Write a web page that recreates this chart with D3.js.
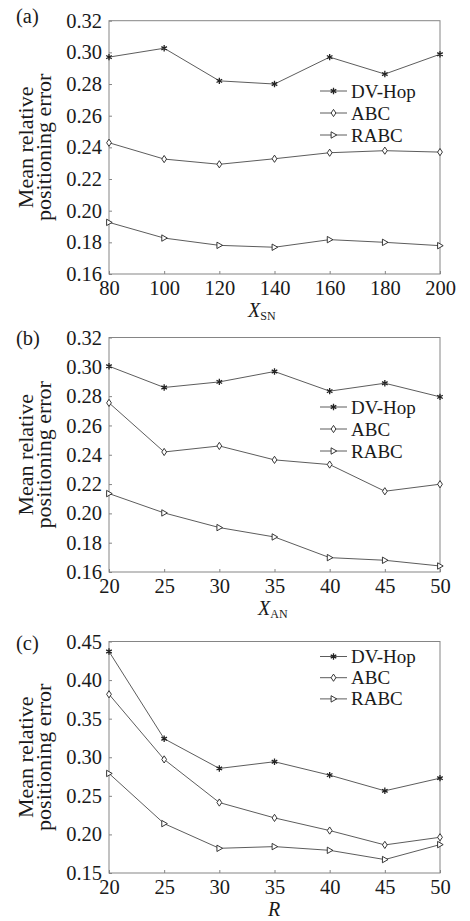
<!DOCTYPE html>
<html>
<head>
<meta charset="utf-8">
<script src="https://cdn.jsdelivr.net/npm/d3@7"></script>
<style>
  body { margin: 0; background: #fff; }
  svg text { font-family: "Liberation Serif", serif; fill: #1a1a1a; }
</style>
</head>
<body>
<svg id="chart" width="470" height="921"></svg>
<script>
// --- data ---
const seriesNames = ["DV-Hop", "ABC", "RABC"];

const xA = [80, 100, 120, 140, 160, 180, 200];
const dvhopA = [0.297, 0.3026, 0.282, 0.280, 0.297, 0.2863, 0.2988];
const abcA = [0.2429, 0.2326, 0.2293, 0.2328, 0.2366, 0.2379, 0.2370];
const rabcA = [0.1926, 0.1827, 0.1781, 0.1769, 0.1817, 0.1800, 0.1779];
const yTicksA = [0.16, 0.18, 0.20, 0.22, 0.24, 0.26, 0.28, 0.30, 0.32];

const xB = [20, 25, 30, 35, 40, 45, 50];
const dvhopB = [0.3004, 0.2859, 0.2897, 0.2968, 0.2834, 0.2888, 0.2795];
const abcB = [0.2754, 0.2419, 0.2460, 0.2365, 0.2333, 0.2151, 0.2199];
const rabcB = [0.2135, 0.2003, 0.1903, 0.1839, 0.1698, 0.1680, 0.1641];
const yTicksB = [0.16, 0.18, 0.20, 0.22, 0.24, 0.26, 0.28, 0.30, 0.32];

const xC = [20, 25, 30, 35, 40, 45, 50];
const dvhopC = [0.437, 0.324, 0.2855, 0.2942, 0.2768, 0.2565, 0.2729];
const abcC = [0.3816, 0.2972, 0.2413, 0.2214, 0.2050, 0.1864, 0.1963];
const rabcC = [0.279, 0.214, 0.182, 0.1842, 0.1794, 0.1674, 0.1868];
const yTicksC = [0.15, 0.20, 0.25, 0.30, 0.35, 0.40, 0.45];

const svg = d3.select("#chart");
const left = 109, right = 440;

// marker shapes
const markers = {
  "DV-Hop": "M0,-3.2L0,3.2M-2.8,-1.6L2.8,1.6M-2.8,1.6L2.8,-1.6",
  "ABC": "M0,-3.6L2.4,0L0,3.6L-2.4,0Z",
  "RABC": "M-2.4,-3.2L3.2,0L-2.4,3.2Z"
};

function drawPanel(cfg) {
  const g = svg.append("g");
  const x = d3.scaleLinear().domain(d3.extent(cfg.xs)).range([left, right]);
  const y = d3.scaleLinear().domain(d3.extent(cfg.yTicks)).range([cfg.bottom, cfg.top]);

  // box
  g.append("rect")
    .attr("x", left).attr("y", cfg.top)
    .attr("width", right - left).attr("height", cfg.bottom - cfg.top)
    .attr("fill", "none").attr("stroke", "#858585").attr("stroke-width", 1);

  // axes with short inward ticks
  const xAxis = d3.axisBottom(x).tickValues(cfg.xs).tickSizeInner(-3).tickSizeOuter(0).tickPadding(6);
  const yAxis = d3.axisLeft(y).tickValues(cfg.yTicks).tickSizeInner(-3).tickSizeOuter(0)
    .tickPadding(7).tickFormat(d3.format(".2f"));

  const gx = g.append("g").attr("transform", "translate(0," + cfg.bottom + ")").call(xAxis);
  const gy = g.append("g").attr("transform", "translate(" + left + ",0)").call(yAxis);
  [gx, gy].forEach(function (a) {
    a.select(".domain").remove();
    a.selectAll(".tick line").attr("stroke", "#858585");
    a.selectAll("text").attr("font-size", 20.5).attr("fill", "#1a1a1a")
      .attr("font-family", "Liberation Serif");
  });

  // series
  const series = [
    { name: "DV-Hop", values: cfg.dvhop },
    { name: "ABC", values: cfg.abc },
    { name: "RABC", values: cfg.rabc }
  ];
  const line = d3.line()
    .x(function (d, i) { return x(cfg.xs[i]); })
    .y(function (d) { return y(d); });

  series.forEach(function (s) {
    g.append("path")
      .attr("d", line(s.values))
      .attr("fill", "none")
      .attr("stroke", "#4a4a4a")
      .attr("stroke-width", 0.9);
    g.selectAll(null)
      .data(s.values)
      .join("path")
      .attr("transform", function (d, i) { return "translate(" + x(cfg.xs[i]) + "," + y(d) + ")"; })
      .attr("d", markers[s.name])
      .attr("fill", "#fff")
      .attr("stroke", "#222")
      .attr("stroke-width", s.name == "DV-Hop" ? 1.3 : 0.9);
  });

  // legend
  seriesNames.forEach(function (name, i) {
    const ly = cfg.legendY + i * cfg.legendStep;
    g.append("line")
      .attr("x1", 320).attr("x2", 347).attr("y1", ly).attr("y2", ly)
      .attr("stroke", "#4a4a4a").attr("stroke-width", 0.9);
    g.append("path")
      .attr("transform", "translate(333.5," + ly + ")")
      .attr("d", markers[name])
      .attr("fill", "#fff").attr("stroke", "#222")
      .attr("stroke-width", name == "DV-Hop" ? 1.3 : 0.9);
    g.append("text")
      .attr("x", 351).attr("y", ly + 6.5)
      .attr("font-size", 19)
      .text(name);
  });

  // panel letter
  g.append("text")
    .attr("x", 16).attr("y", cfg.letterY)
    .attr("font-size", 20.5)
    .text(cfg.letter);

  // y title, two lines
  const cy = (cfg.top + cfg.bottom) / 2;
  ["Mean relative", "positioning error"].forEach(function (t, i) {
    g.append("text")
      .attr("transform", "translate(" + (33 + i * 18) + "," + cy + ") rotate(-90)")
      .attr("text-anchor", "middle")
      .attr("font-size", 22)
      .text(t);
  });

  // x title
  const xt = g.append("text")
    .attr("x", cfg.titleX).attr("y", cfg.bottom + 43)
    .attr("font-size", 20);
  xt.append("tspan").attr("font-style", "italic").text(cfg.xVar);
  if (cfg.xSub) {
    xt.append("tspan").attr("font-size", 12).attr("dy", 3).text(cfg.xSub);
  }
}

drawPanel({ xs: xA, dvhop: dvhopA, abc: abcA, rabc: rabcA, yTicks: yTicksA,
  top: 20.7, bottom: 274, legendY: 91, legendStep: 22, letter: "(a)", letterY: 23,
  xVar: "X", xSub: "SN", titleX: 248 });
drawPanel({ xs: xB, dvhop: dvhopB, abc: abcB, rabc: rabcB, yTicks: yTicksB,
  top: 337.5, bottom: 572, legendY: 407, legendStep: 22, letter: "(b)", letterY: 345,
  xVar: "X", xSub: "AN", titleX: 258 });
drawPanel({ xs: xC, dvhop: dvhopC, abc: abcC, rabc: rabcC, yTicks: yTicksC,
  top: 641.5, bottom: 873, legendY: 656.5, legendStep: 21.2, letter: "(c)", letterY: 650,
  xVar: "R", xSub: null, titleX: 268 });
</script>
</body>
</html>
